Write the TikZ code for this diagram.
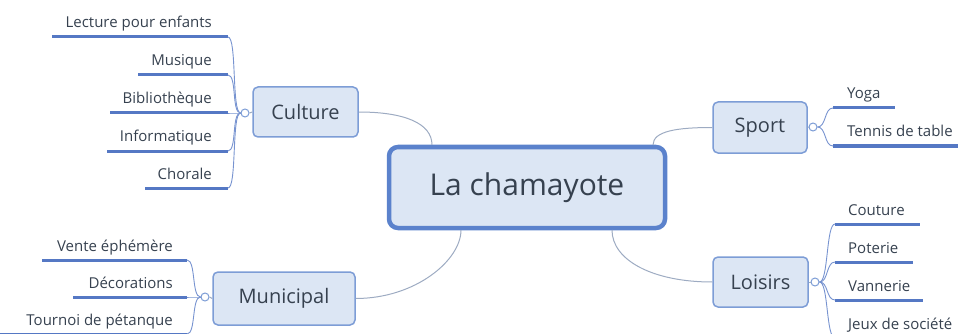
\documentclass[tikz,border=0pt]{standalone}
\usepackage{fontspec}
\setmainfont{Open Sans}
\definecolor{boxfill}{HTML}{DCE6F4}
\definecolor{boxdraw}{HTML}{7D9DD6}
\definecolor{rootdraw}{HTML}{5B82CC}
\definecolor{txt}{HTML}{36414F}
\definecolor{sub}{HTML}{5578C4}
\definecolor{conn}{HTML}{9DABC2}
\begin{document}
\begin{tikzpicture}[x=1pt,y=-1pt,
 topic/.style={draw=boxdraw,fill=boxfill,line width=1.5pt,rounded corners=5pt,text=txt,font=\fontsize{20}{24}\selectfont,inner sep=0pt},
 rootbox/.style={draw=rootdraw,fill=boxfill,line width=4.5pt,rounded corners=9pt,text=txt,font=\fontsize{30}{36}\selectfont,inner sep=0pt,minimum width=276pt,minimum height=81pt},
 leaf/.style={text=txt,font=\fontsize{15}{18}\selectfont,inner sep=0pt},
 uline/.style={draw=sub,line width=3pt},
 branch/.style={draw=sub!80,line width=0.9pt},
 conn/.style={draw=conn,line width=1pt},
 knob/.style={circle,draw=boxdraw,fill=white,line width=1pt,minimum size=8pt,inner sep=0pt}]
\useasboundingbox (0,0) rectangle (958,334);

% root
\node[rootbox] (root) at (527,187.5) {\raisebox{-2pt}{La chamayote}};
\coordinate (rc) at (432,145);
\coordinate (rm) at (461,230);
\coordinate (rs) at (653,145);
\coordinate (rl) at (612,230);

% main topics
\node[topic,minimum width=105pt,minimum height=50pt] (cult) at (305.5,112) {Culture};
\node[topic,minimum width=142pt,minimum height=53pt] (muni) at (284,298.5) {Municipal};
\node[topic,minimum width=94pt,minimum height=51pt] (sport) at (760,127.5) {Sport};
\node[topic,minimum width=95pt,minimum height=50pt] (lois) at (760.5,282) {Loisirs};

% root connectors
\draw[conn] (cult.east) .. controls +(45,0) and +(0,-22) .. (rc);
\draw[conn] (muni.east) .. controls +(60,0) and +(0,30) .. (rm);
\draw[conn] (sport.west) .. controls +(-35,0) and +(0,-14) .. (rs);
\draw[conn] (lois.west) .. controls +(-60,0) and +(0,30) .. (rl);

% knobs
\node[knob] (kc) at (245,113) {};
\node[knob] (km) at (205,297) {};
\node[knob] (ks) at (813,127) {};
\node[knob] (kl) at (815,282) {};
\draw[conn] (cult.west) -- (kc.east);
\draw[conn] (muni.west) -- (km.east);
\draw[conn] (sport.east) -- (ks.west);
\draw[conn] (lois.east) -- (kl.west);

% Culture leaves
\foreach \i/\y/\xs/\t in {1/37/52/Lecture pour enfants,2/75/138/Musique,3/113/110/Bibliothèque,4/151/107/Informatique,5/188/145/Chorale}{
  \coordinate (ca\i) at (\xs,\y);
  \coordinate (cb\i) at (228,\y);
  \node[leaf,anchor=base east] (ct\i) at (212,\y-9) {\t};
  \draw[uline] (ca\i) -- (cb\i);
  \draw[branch] (kc.west) .. controls +(-9,0) and +(9,0) .. (cb\i);
}
% Municipal leaves
\foreach \i/\y/\xs/\t in {1/260/42/Vente éphémère,2/297/73/Décorations,3/334/-5/Tournoi de pétanque}{
  \coordinate (ma\i) at (\xs,\y);
  \coordinate (mb\i) at (187,\y);
  \node[leaf,anchor=base east] (mt\i) at (173,\y-9) {\t};
  \draw[uline] (ma\i) -- (mb\i);
  \draw[branch] (km.west) .. controls +(-9,0) and +(9,0) .. (mb\i);
}
% Sport leaves
\foreach \i/\y/\xe/\t in {1/108/895/Yoga,2/146/965/Tennis de table}{
  \coordinate (sa\i) at (833,\y);
  \coordinate (sb\i) at (\xe,\y);
  \node[leaf,anchor=base west] (st\i) at (847,\y-9) {\t};
  \draw[uline] (sa\i) -- (sb\i);
  \draw[branch] (ks.east) .. controls +(9,0) and +(-9,0) .. (sa\i);
}
% Loisirs leaves
\foreach \i/\y/\xe/\t in {1/224/920/Couture,2/262/913/Poterie,3/300/923/Vannerie,4/338/960/Jeux de société}{
  \coordinate (la\i) at (835,\y);
  \coordinate (lb\i) at (\xe,\y);
  \node[leaf,anchor=base west] (lt\i) at (848,\y-9) {\t};
  \draw[uline] (la\i) -- (lb\i);
  \draw[branch] (kl.east) .. controls +(9,0) and +(-9,0) .. (la\i);
}
\end{tikzpicture}
\end{document}
